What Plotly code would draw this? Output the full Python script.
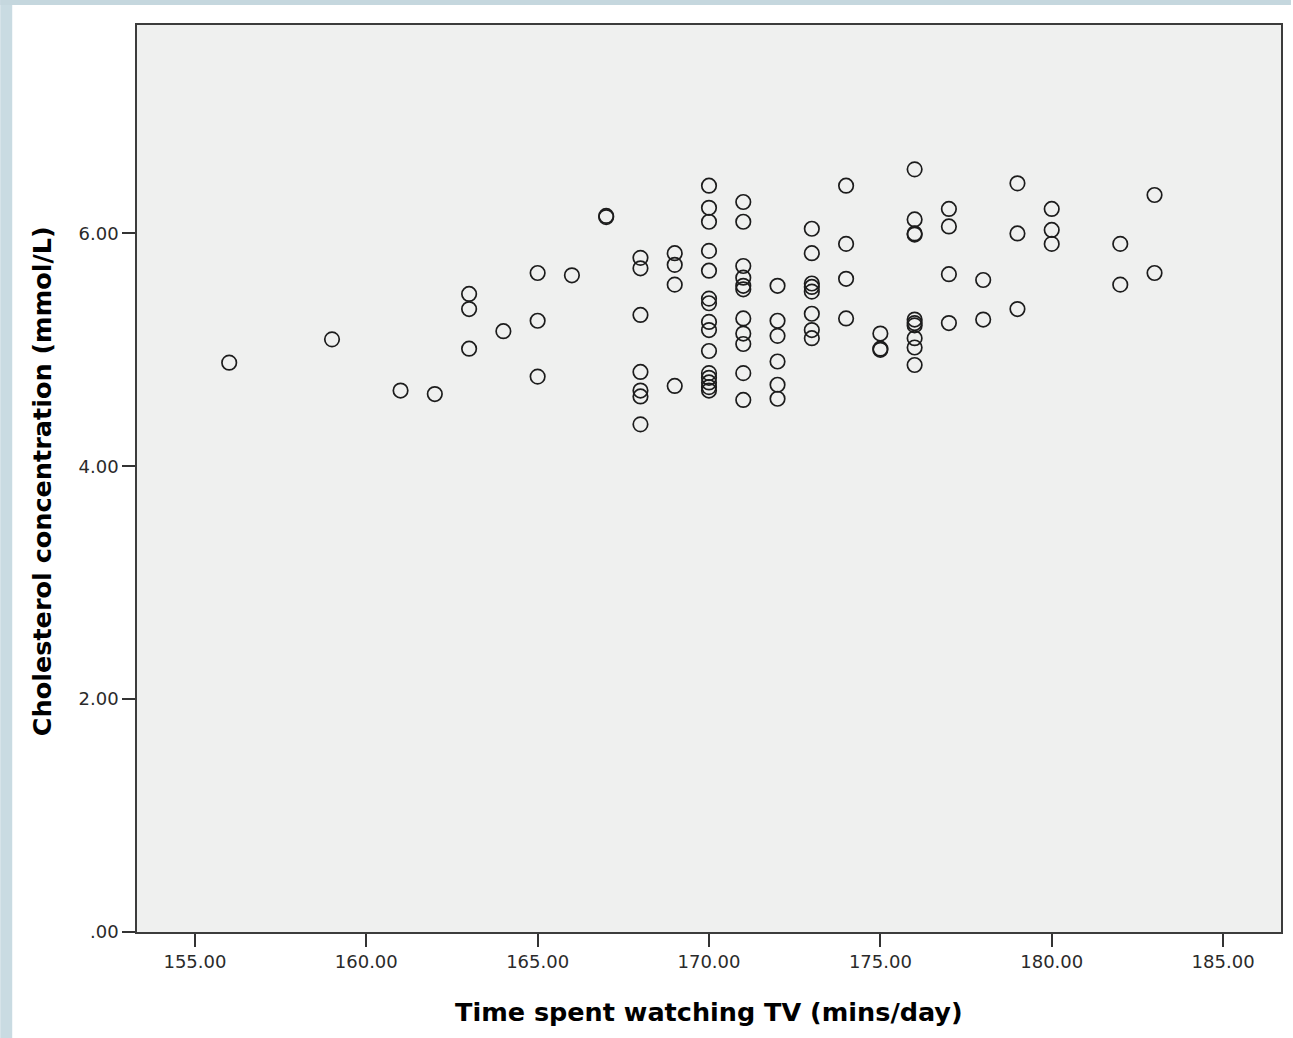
import plotly.graph_objects as go

# ---- data ----
tv_minutes = (
    [156] + [159] + [161] + [162] + [163] * 3 + [164] + [165] * 3 + [166] + [167] * 2
    + [168] * 7 + [169] * 4 + [170] * 15 + [171] * 11 + [172] * 6 + [173] * 8
    + [174] * 4 + [175] * 3 + [176] * 10 + [177] * 4 + [178] * 2 + [179] * 3
    + [180] * 3 + [182] * 2 + [183] * 2
)
cholesterol = [
    4.89,
    5.09,
    4.65,
    4.62,
    5.48, 5.35, 5.01,
    5.16,
    5.66, 5.25, 4.77,
    5.64,
    6.15, 6.14,
    5.79, 5.70, 5.30, 4.81, 4.65, 4.60, 4.36,
    5.83, 5.73, 5.56, 4.69,
    6.41, 6.22, 6.10, 5.85, 5.68, 5.44, 5.40, 5.24, 5.17, 4.99, 4.80, 4.76, 4.72, 4.68, 4.65,
    6.27, 6.10, 5.72, 5.62, 5.55, 5.52, 5.27, 5.14, 5.05, 4.80, 4.57,
    5.55, 5.25, 5.12, 4.90, 4.70, 4.58,
    6.04, 5.83, 5.57, 5.54, 5.50, 5.31, 5.17, 5.10,
    6.41, 5.91, 5.61, 5.27,
    5.14, 5.01, 5.00,
    6.55, 6.12, 6.00, 5.99, 5.26, 5.23, 5.21, 5.10, 5.02, 4.87,
    6.21, 6.06, 5.65, 5.23,
    5.60, 5.26,
    6.43, 6.00, 5.35,
    6.21, 6.03, 5.91,
    5.91, 5.56,
    6.33, 5.66,
]

x_ticks = [155, 160, 165, 170, 175, 180, 185]
x_tick_labels = ["155.00", "160.00", "165.00", "170.00", "175.00", "180.00", "185.00"]
y_ticks = [0, 2, 4, 6]
y_tick_labels = [".00", "2.00", "4.00", "6.00"]

x_title = "Time spent watching TV (mins/day)"
y_title = "Cholesterol concentration (mmol/L)"

# ---- layout geometry ----
W, H = 1293, 1038
L, R, T, B = 137, 10, 25, 106
PW, PH = W - L - R, H - T - B


def px_to_paper_x(p):
    return (p - L) / PW


def px_to_paper_y(p):
    return (H - B - p) / PH


fig = go.Figure()
fig.add_trace(
    go.Scatter(
        x=tv_minutes,
        y=cholesterol,
        mode="markers",
        marker=dict(
            symbol="circle-open",
            size=14.5,
            color="#1c1c1c",
            line=dict(width=1.7, color="#1c1c1c"),
        ),
        hoverinfo="x+y",
        showlegend=False,
    )
)

axis_common = dict(
    showgrid=False,
    zeroline=False,
    showline=True,
    mirror=True,
    linecolor="#3c3c3c",
    linewidth=1.5,
    ticks="outside",
    ticklen=13,
    tickwidth=1.5,
    tickcolor="#333333",
    tickfont=dict(family="DejaVu Sans", size=18, color="#2a2a2a"),
)

fig.update_xaxes(
    range=[153.31, 186.69],
    tickvals=x_ticks,
    ticktext=x_tick_labels,
    **axis_common,
)
fig.update_yaxes(
    range=[0, 7.79],
    tickvals=y_ticks,
    ticktext=y_tick_labels,
    **axis_common,
)

shapes = [
    # light blue window strips (left and top)
    dict(type="rect", xref="paper", yref="paper",
         x0=px_to_paper_x(0), x1=px_to_paper_x(12),
         y0=px_to_paper_y(H), y1=px_to_paper_y(0),
         fillcolor="#c9dbe2", line=dict(width=0), layer="below"),
    dict(type="rect", xref="paper", yref="paper",
         x0=px_to_paper_x(0), x1=px_to_paper_x(W),
         y0=px_to_paper_y(5), y1=px_to_paper_y(0),
         fillcolor="#c5d7de", line=dict(width=0), layer="below"),
]

annotations = [
    dict(text=x_title, xref="paper", yref="paper",
         x=0.5, y=px_to_paper_y(1012), xanchor="center", yanchor="middle",
         showarrow=False,
         font=dict(family="DejaVu Sans", size=25.5, color="#000000", weight="bold")),
    dict(text=y_title, xref="paper", yref="paper",
         x=px_to_paper_x(42), y=px_to_paper_y(481), xanchor="center", yanchor="middle",
         textangle=-90, showarrow=False,
         font=dict(family="DejaVu Sans", size=25.5, color="#000000", weight="bold")),
]

fig.update_layout(
    width=W,
    height=H,
    margin=dict(l=L, r=R, t=T, b=B, pad=0),
    paper_bgcolor="#ffffff",
    plot_bgcolor="#eff0ef",
    shapes=shapes,
    annotations=annotations,
    showlegend=False,
)

fig.write_html("out.html")
